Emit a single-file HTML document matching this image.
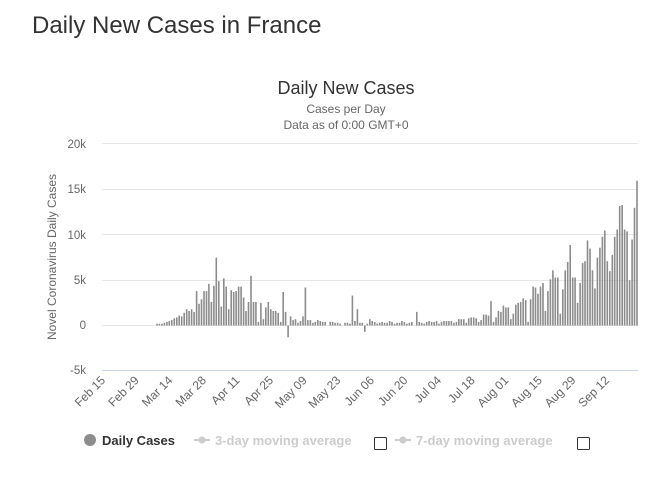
<!DOCTYPE html>
<html><head><meta charset="utf-8"><style>
body{margin:0;background:#fff;width:654px;height:498px;overflow:hidden;font-family:"Liberation Sans",sans-serif}
</style></head><body>
<svg width="654" height="498" xmlns="http://www.w3.org/2000/svg" font-family="Liberation Sans, sans-serif">
<text x="32" y="33" font-size="24" fill="#333">Daily New Cases in France</text>
<text x="346" y="94" font-size="18" fill="#333" text-anchor="middle">Daily New Cases</text>
<text x="346" y="113" font-size="12" fill="#666" text-anchor="middle">Cases per Day</text>
<text x="346" y="129" font-size="12" fill="#666" text-anchor="middle">Data as of 0:00 GMT+0</text>
<g stroke="#e6e6e6" stroke-width="1">
<line x1="102" x2="638" y1="143.5" y2="143.5"/><line x1="102" x2="638" y1="189.5" y2="189.5"/>
<line x1="102" x2="638" y1="234.5" y2="234.5"/><line x1="102" x2="638" y1="280.5" y2="280.5"/>
<line x1="102" x2="638" y1="325.5" y2="325.5"/>
</g>
<line x1="102" x2="638" y1="370.5" y2="370.5" stroke="#ccd6eb"/>
<g font-size="11.5" fill="#666" text-anchor="end">
<text x="86" y="148">20k</text><text x="86" y="193">15k</text><text x="86" y="239">10k</text>
<text x="86" y="284">5k</text><text x="86" y="329">0</text><text x="86" y="374">-5k</text>
</g>
<text transform="translate(56,257) rotate(-90)" font-size="12" fill="#666" text-anchor="middle">Novel Coronavirus Daily Cases</text>
<g id="bars" fill="#8c8c8c"></g>
<g id="xl" font-size="12" fill="#666" text-anchor="end"></g>
<circle cx="90" cy="440" r="6" fill="#8c8c8c"/>
<text x="102" y="445" font-size="13" font-weight="bold" fill="#333">Daily Cases</text>
<line x1="194" x2="210" y1="440" y2="440" stroke="#ccc" stroke-width="2"/><circle cx="202" cy="440" r="3.5" fill="#ccc"/>
<text x="215" y="445" font-size="13" font-weight="bold" fill="#ccc">3-day moving average</text>
<rect x="374.5" y="437.5" width="12" height="12" fill="#fff" stroke="#333" rx="1"/>
<line x1="395" x2="411" y1="440" y2="440" stroke="#ccc" stroke-width="2"/><circle cx="403" cy="440" r="3.5" fill="#ccc"/>
<text x="416" y="445" font-size="13" font-weight="bold" fill="#ccc">7-day moving average</text>
<rect x="577.5" y="437.5" width="12" height="12" fill="#fff" stroke="#333" rx="1"/>
</svg>
<script>
var d=[0,0,0,0,0,0,0,0,0,0,0,0,0,0,0,0,0,0,0,0,0,
.2,.2,.2,.3,.4,.5,.6,.8,.9,1.1,1.0,1.4,1.8,1.6,1.8,1.5,3.8,2.4,2.9,3.8,3.8,
4.6,2.6,4.4,7.5,4.9,2.1,5.2,4.3,1.8,3.9,3.7,3.8,4.3,4.3,
3.1,1.6,2.6,5.5,2.6,2.6,0.4,2.5,0.7,2.0,2.6,1.8,1.6,1.6,
1.4,0.4,3.7,1.5,-1.3,1.0,0.6,0.7,0.3,0.5,1.0,4.2,0.6,0.6,
0.3,0.4,0.6,0.5,0.4,0.4,0,0.4,0.4,0.3,0.3,0.2,0,0.3,
0.3,0.2,3.3,0.5,1.8,0.3,0.3,-0.7,0.2,0.7,0.5,0.4,0.2,0.3,
0.4,0.3,0.3,0.5,0.4,0.2,0.3,0.3,0.5,0.4,0.2,0.3,0.4,0,
1.5,0.4,0.3,0.2,0.4,0.5,0.4,0.4,0.5,0.2,0.4,0.5,0.5,0.5,
0.5,0.3,0.4,0.7,0.7,0.7,0.3,0.8,0.9,0.9,0.8,0.4,0.6,1.2,
1.2,1.1,2.7,0.4,0.9,1.6,1.5,2.2,2.0,2.0,0.7,1.3,2.3,2.5,
2.6,3.0,2.8,0.4,2.9,4.3,4.2,3.5,4.3,4.7,1.6,3.8,5.1,6.1,
5.3,5.3,1.3,4.0,6.1,7.0,8.9,5.3,5.3,2.5,4.7,6.9,7.1,9.4,
8.5,6.1,4.1,7.5,8.6,9.8,10.5,7.1,6.0,7.8,9.8,10.6,13.2,13.3,
10.6,10.4,5.0,9.5,13.0,16.0];
var N=d.length,step=(637-105)/(N-1),s='';
for(var i=0;i<N;i++){var v=d[i];if(!v)continue;var x=105+i*step-0.8,h=Math.abs(v)*9.05;
s+='<rect x="'+x.toFixed(1)+'" y="'+(v>0?325.5-h:325.5).toFixed(1)+'" width="1.6" height="'+Math.max(h,0.8).toFixed(1)+'"/>';}
document.getElementById('bars').innerHTML=s;
var L=['Feb 15','Feb 29','Mar 14','Mar 28','Apr 11','Apr 25','May 09','May 23','Jun 06','Jun 20','Jul 04','Jul 18','Aug 01','Aug 15','Aug 29','Sep 12'],t='';
for(var j=0;j<L.length;j++){var x=106+j*14*2.4;t+='<text transform="translate('+x.toFixed(1)+',381) rotate(-45)">'+L[j]+'</text>';}
document.getElementById('xl').innerHTML=t;
</script>
</body></html>
